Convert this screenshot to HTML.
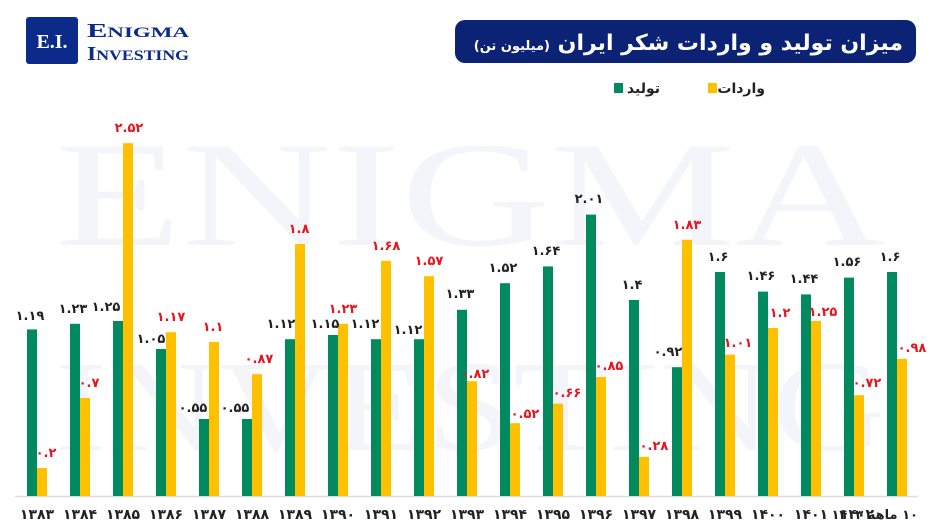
<!DOCTYPE html>
<html><head><meta charset="utf-8"><style>
html,body{margin:0;padding:0;background:#fff;width:940px;height:529px;overflow:hidden}
svg{display:block}
.g{fill:#008a5e}.y{fill:#ffc000}
.lg{font:bold 13px "DejaVu Sans",sans-serif;fill:#222;text-anchor:middle}
.lr{font:bold 13px "DejaVu Sans",sans-serif;fill:#e8141e;text-anchor:middle}
.xl{font:bold 14px "DejaVu Sans",sans-serif;fill:#222;text-anchor:middle}
</style></head><body>
<svg width="940" height="529" viewBox="0 0 940 529" xmlns="http://www.w3.org/2000/svg">
<g fill="#f3f5fa" font-family="Liberation Serif,serif" font-size="150">
<text x="55" y="245" textLength="830" lengthAdjust="spacingAndGlyphs">ENIGMA</text>
<text x="55" y="450" textLength="830" lengthAdjust="spacingAndGlyphs" font-size="130">INVESTING</text>
</g>
<rect x="26" y="17" width="52" height="47" rx="3" fill="#0b2a8a"/>
<text x="52" y="48" font-family="Liberation Serif,serif" font-weight="bold" font-size="20" fill="#fff" text-anchor="middle">E.I.</text>
<text x="87" y="37" font-family="Liberation Serif,serif" font-weight="bold" font-size="20" fill="#0b2a8a" textLength="102" lengthAdjust="spacingAndGlyphs">E<tspan font-size="15">NIGMA</tspan></text>
<text x="87" y="60" font-family="Liberation Serif,serif" font-weight="bold" font-size="20" fill="#0b2a8a" textLength="102" lengthAdjust="spacingAndGlyphs">I<tspan font-size="15">NVESTING</tspan></text>
<rect x="455" y="20" width="461" height="43" rx="10" fill="#0b2275"/>
<text x="903" y="50" direction="rtl" font-family="DejaVu Sans,sans-serif" font-weight="bold" font-size="22" fill="#fff" text-anchor="start">میزان تولید و واردات شکر ایران <tspan font-size="13">(میلیون تن)</tspan></text>
<rect x="614" y="83" width="9" height="10" class="g"/>
<text x="660" y="93" direction="rtl" font-family="DejaVu Sans,sans-serif" font-weight="bold" font-size="14" fill="#222" text-anchor="start">تولید</text>
<rect x="708" y="83" width="9" height="10" class="y"/>
<text x="765" y="93" direction="rtl" font-family="DejaVu Sans,sans-serif" font-weight="bold" font-size="14" fill="#222" text-anchor="start">واردات</text>
<line x1="15" y1="496.5" x2="918" y2="496.5" stroke="#ddd" stroke-width="1.5"/>
<g>
<rect class="g" x="27" y="329.4" width="10" height="166.6"/><rect class="y" x="37" y="468" width="10" height="28"/>
<rect class="g" x="70" y="323.8" width="10" height="172.2"/><rect class="y" x="80" y="398" width="10" height="98"/>
<rect class="g" x="113" y="321" width="10" height="175"/><rect class="y" x="123" y="143.2" width="10" height="352.8"/>
<rect class="g" x="156" y="349" width="10" height="147"/><rect class="y" x="166" y="332.2" width="10" height="163.8"/>
<rect class="g" x="199" y="419" width="10" height="77"/><rect class="y" x="209" y="342" width="10" height="154"/>
<rect class="g" x="242" y="419" width="10" height="77"/><rect class="y" x="252" y="374.2" width="10" height="121.8"/>
<rect class="g" x="285" y="339.2" width="10" height="156.8"/><rect class="y" x="295" y="244" width="10" height="252"/>
<rect class="g" x="328" y="335" width="10" height="161"/><rect class="y" x="338" y="323.8" width="10" height="172.2"/>
<rect class="g" x="371" y="339.2" width="10" height="156.8"/><rect class="y" x="381" y="260.8" width="10" height="235.2"/>
<rect class="g" x="414" y="339.2" width="10" height="156.8"/><rect class="y" x="424" y="276.2" width="10" height="219.8"/>
<rect class="g" x="457" y="309.8" width="10" height="186.2"/><rect class="y" x="467" y="381.2" width="10" height="114.8"/>
<rect class="g" x="500" y="283.2" width="10" height="212.8"/><rect class="y" x="510" y="423.2" width="10" height="72.8"/>
<rect class="g" x="543" y="266.4" width="10" height="229.6"/><rect class="y" x="553" y="403.6" width="10" height="92.4"/>
<rect class="g" x="586" y="214.6" width="10" height="281.4"/><rect class="y" x="596" y="377" width="10" height="119"/>
<rect class="g" x="629" y="300" width="10" height="196"/><rect class="y" x="639" y="456.8" width="10" height="39.2"/>
<rect class="g" x="672" y="367.2" width="10" height="128.8"/><rect class="y" x="682" y="239.8" width="10" height="256.2"/>
<rect class="g" x="715" y="272" width="10" height="224"/><rect class="y" x="725" y="354.6" width="10" height="141.4"/>
<rect class="g" x="758" y="291.6" width="10" height="204.4"/><rect class="y" x="768" y="328" width="10" height="168"/>
<rect class="g" x="801" y="294.4" width="10" height="201.6"/><rect class="y" x="811" y="321" width="10" height="175"/>
<rect class="g" x="844" y="277.6" width="10" height="218.4"/><rect class="y" x="854" y="395.2" width="10" height="100.8"/>
<rect class="g" x="887" y="272" width="10" height="224"/><rect class="y" x="897" y="358.8" width="10" height="137.2"/>
</g>
<g>
<text class="lg" x="30" y="320">۱.۱۹</text>
<text class="lg" x="73" y="313">۱.۲۳</text>
<text class="lg" x="106" y="311">۱.۲۵</text>
<text class="lg" x="151" y="343">۱.۰۵</text>
<text class="lg" x="193" y="412">۰.۵۵</text>
<text class="lg" x="235" y="412">۰.۵۵</text>
<text class="lg" x="281" y="328">۱.۱۲</text>
<text class="lg" x="325" y="328">۱.۱۵</text>
<text class="lg" x="365" y="328">۱.۱۲</text>
<text class="lg" x="408" y="334">۱.۱۲</text>
<text class="lg" x="460" y="298">۱.۳۳</text>
<text class="lg" x="503" y="272">۱.۵۲</text>
<text class="lg" x="546" y="255">۱.۶۴</text>
<text class="lg" x="589" y="203">۲.۰۱</text>
<text class="lg" x="632" y="289">۱.۴</text>
<text class="lg" x="668" y="356">۰.۹۲</text>
<text class="lg" x="718" y="261">۱.۶</text>
<text class="lg" x="761" y="280">۱.۴۶</text>
<text class="lg" x="804" y="283">۱.۴۴</text>
<text class="lg" x="847" y="266">۱.۵۶</text>
<text class="lg" x="890" y="261">۱.۶</text>
</g>
<g>
<text class="lr" x="46" y="457">۰.۲</text>
<text class="lr" x="89" y="387">۰.۷</text>
<text class="lr" x="129" y="132">۲.۵۲</text>
<text class="lr" x="171" y="321">۱.۱۷</text>
<text class="lr" x="213" y="331">۱.۱</text>
<text class="lr" x="259" y="363">۰.۸۷</text>
<text class="lr" x="299" y="233">۱.۸</text>
<text class="lr" x="343" y="313">۱.۲۳</text>
<text class="lr" x="386" y="250">۱.۶۸</text>
<text class="lr" x="429" y="265">۱.۵۷</text>
<text class="lr" x="475" y="378">۰.۸۲</text>
<text class="lr" x="525" y="418">۰.۵۲</text>
<text class="lr" x="567" y="397">۰.۶۶</text>
<text class="lr" x="609" y="370">۰.۸۵</text>
<text class="lr" x="654" y="450">۰.۲۸</text>
<text class="lr" x="687" y="229">۱.۸۳</text>
<text class="lr" x="738" y="347">۱.۰۱</text>
<text class="lr" x="780" y="317">۱.۲</text>
<text class="lr" x="823" y="316">۱.۲۵</text>
<text class="lr" x="867" y="387">۰.۷۲</text>
<text class="lr" x="912" y="352">۰.۹۸</text>
</g>
<g>
<text class="xl" x="37" y="519">۱۳۸۳</text>
<text class="xl" x="80" y="519">۱۳۸۴</text>
<text class="xl" x="123" y="519">۱۳۸۵</text>
<text class="xl" x="166" y="519">۱۳۸۶</text>
<text class="xl" x="209" y="519">۱۳۸۷</text>
<text class="xl" x="252" y="519">۱۳۸۸</text>
<text class="xl" x="295" y="519">۱۳۸۹</text>
<text class="xl" x="338" y="519">۱۳۹۰</text>
<text class="xl" x="381" y="519">۱۳۹۱</text>
<text class="xl" x="424" y="519">۱۳۹۲</text>
<text class="xl" x="467" y="519">۱۳۹۳</text>
<text class="xl" x="510" y="519">۱۳۹۴</text>
<text class="xl" x="553" y="519">۱۳۹۵</text>
<text class="xl" x="596" y="519">۱۳۹۶</text>
<text class="xl" x="639" y="519">۱۳۹۷</text>
<text class="xl" x="682" y="519">۱۳۹۸</text>
<text class="xl" x="725" y="519">۱۳۹۹</text>
<text class="xl" x="768" y="519">۱۴۰۰</text>
<text class="xl" x="811" y="519">۱۴۰۱</text>
<text class="xl" x="857" y="519">۱۴۰۲</text>
<text x="918" y="519" direction="rtl" font-family="DejaVu Sans,sans-serif" font-weight="bold" font-size="13" fill="#222" text-anchor="start">۱۰ ماهه ۱۴۰۳</text>
</g>
</svg>
</body></html>
